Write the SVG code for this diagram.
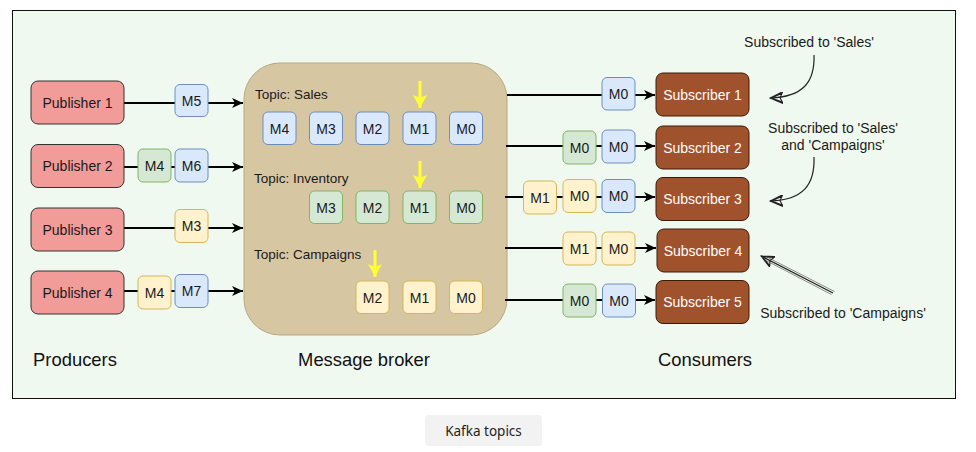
<svg xmlns="http://www.w3.org/2000/svg" width="976" height="452" viewBox="0 0 976 452">
<style>
.t{font-family:"Liberation Sans",Arial,sans-serif;font-size:14px;fill:#1a1a1a;text-anchor:middle}
.tl{font-family:"Liberation Sans",Arial,sans-serif;font-size:13.5px;fill:#1a1a1a}
.big{font-family:"Liberation Sans",Arial,sans-serif;font-size:18.4px;fill:#111;text-anchor:middle}
.pub{fill:#f19c99;stroke:#333;stroke-width:1}
.sub{fill:#a0522d;stroke:#3d1a08;stroke-width:1}
.st{font-family:"Liberation Sans",Arial,sans-serif;font-size:14px;fill:#fff;text-anchor:middle}
.b{fill:#dae8fc;stroke:#6c8ebf;stroke-width:1}
.g{fill:#d5e8d4;stroke:#82b366;stroke-width:1}
.y{fill:#fff2cc;stroke:#d6b656;stroke-width:1}
.ln{stroke:#000;stroke-width:2;fill:none}
.ya{stroke:#ffff33;stroke-width:3;fill:none}
.sk{stroke:#222;stroke-width:1.2;fill:none}
</style>
<defs>
<marker id="ah" markerUnits="userSpaceOnUse" markerWidth="12" markerHeight="10" refX="11" refY="5" orient="auto">
<path d="M0,0 L11,5 L0,10 L3,5 Z" fill="#000"/>
</marker>
<marker id="yah" markerUnits="userSpaceOnUse" markerWidth="14" markerHeight="14" refX="13" refY="7" orient="auto">
<path d="M0,0 L13,7 L0,14 L3,7 Z" fill="#ffff33"/>
</marker>
<marker id="oah" markerUnits="userSpaceOnUse" markerWidth="14" markerHeight="12" refX="13" refY="6" orient="auto">
<path d="M13,6 L0,0 L3,6 L0,12 Z M1,1.5 L12.5,6.5 M1,10.5 L12.5,5.5" fill="none" stroke="#222" stroke-width="1.1"/>
</marker>
</defs>
<rect x="12.5" y="10.5" width="943" height="388" fill="#f0f9ef" stroke="#111" stroke-width="1"/>

<g id="broker">
<rect x="244" y="63" width="263" height="272" rx="36" ry="36" fill="#d6c6a2" stroke="#b8a881" stroke-width="1"/>
<text class="tl" x="255" y="99">Topic: Sales</text>
<text class="tl" x="254" y="183">Topic: Inventory</text>
<text class="tl" x="254" y="259">Topic: Campaigns</text>
</g>

<g id="connectors">
<line class="ln" x1="124" y1="103" x2="243" y2="103" marker-end="url(#ah)"/>
<line class="ln" x1="124" y1="167" x2="243" y2="167" marker-end="url(#ah)"/>
<line class="ln" x1="124" y1="228" x2="243" y2="228" marker-end="url(#ah)"/>
<line class="ln" x1="124" y1="291" x2="243" y2="291" marker-end="url(#ah)"/>
<line class="ln" x1="507" y1="95" x2="655" y2="95" marker-end="url(#ah)"/>
<line class="ln" x1="506" y1="146" x2="655" y2="146" marker-end="url(#ah)"/>
<line class="ln" x1="505" y1="197" x2="655" y2="197" marker-end="url(#ah)"/>
<line class="ln" x1="505" y1="248" x2="656" y2="248" marker-end="url(#ah)"/>
<line class="ln" x1="505" y1="300" x2="655" y2="300" marker-end="url(#ah)"/>
<line class="ya" x1="420" y1="81" x2="420" y2="108" marker-end="url(#yah)"/>
<line class="ya" x1="420" y1="161" x2="420" y2="188" marker-end="url(#yah)"/>
<line class="ya" x1="375" y1="250" x2="375" y2="277" marker-end="url(#yah)"/>
<path class="sk" d="M814,55 C815,82 803,97 770,98" marker-end="url(#oah)"/>
<path class="sk" d="M814,157 C815,185 803,200 770,201" marker-end="url(#oah)"/>
<path class="sk" d="M833,293 L761,256" stroke-width="1" marker-end="url(#oah)"/>
<path d="M834.5,291.5 L766,256.5 M831.5,294.5 L764,259.5" fill="none" stroke="#444" stroke-width="0.6"/>
</g>

<g id="publisher1"><rect class="pub" x="31" y="81" width="93" height="43" rx="7"/><text class="t" x="77.5" y="107.5">Publisher 1</text></g>
<g id="publisher2"><rect class="pub" x="31" y="144.5" width="93" height="43" rx="7"/><text class="t" x="77.5" y="171">Publisher 2</text></g>
<g id="publisher3"><rect class="pub" x="31" y="208" width="93" height="43" rx="7"/><text class="t" x="77.5" y="234.5">Publisher 3</text></g>
<g id="publisher4"><rect class="pub" x="31" y="271" width="93" height="43" rx="7"/><text class="t" x="77.5" y="297.5">Publisher 4</text></g>

<g id="pmsg">
<rect class="b" x="175" y="84.5" width="33" height="32" rx="5"/><text class="t" x="191.5" y="105.5">M5</text>
<rect class="g" x="138" y="149" width="33" height="33" rx="5"/><text class="t" x="154.5" y="170.5">M4</text>
<rect class="b" x="175" y="149" width="33" height="33" rx="5"/><text class="t" x="191.5" y="170.5">M6</text>
<rect class="y" x="175" y="209.5" width="33" height="33" rx="5"/><text class="t" x="191.5" y="231">M3</text>
<rect class="y" x="138" y="276" width="33" height="33" rx="5"/><text class="t" x="154.5" y="297.5">M4</text>
<rect class="b" x="175" y="274.5" width="33" height="33" rx="5"/><text class="t" x="191.5" y="296">M7</text>
</g>

<g id="sales">
<rect class="b" x="263" y="112" width="33" height="32.5" rx="5"/><text class="t" x="279.5" y="133.5">M4</text>
<rect class="b" x="309.5" y="112" width="33" height="32.5" rx="5"/><text class="t" x="326" y="133.5">M3</text>
<rect class="b" x="356" y="112" width="33" height="32.5" rx="5"/><text class="t" x="372.5" y="133.5">M2</text>
<rect class="b" x="403" y="112" width="33" height="32.5" rx="5"/><text class="t" x="419.5" y="133.5">M1</text>
<rect class="b" x="449.5" y="112" width="33" height="32.5" rx="5"/><text class="t" x="466" y="133.5">M0</text>
</g>
<g id="inventory">
<rect class="g" x="309.5" y="191" width="33" height="32.5" rx="5"/><text class="t" x="326" y="212.5">M3</text>
<rect class="g" x="356" y="191" width="33" height="32.5" rx="5"/><text class="t" x="372.5" y="212.5">M2</text>
<rect class="g" x="403" y="191" width="33" height="32.5" rx="5"/><text class="t" x="419.5" y="212.5">M1</text>
<rect class="g" x="449.5" y="191" width="33" height="32.5" rx="5"/><text class="t" x="466" y="212.5">M0</text>
</g>
<g id="campaigns">
<rect class="y" x="356" y="281" width="33" height="32.5" rx="5"/><text class="t" x="372.5" y="302.5">M2</text>
<rect class="y" x="403" y="281" width="33" height="32.5" rx="5"/><text class="t" x="419.5" y="302.5">M1</text>
<rect class="y" x="449.5" y="281" width="33" height="32.5" rx="5"/><text class="t" x="466" y="302.5">M0</text>
</g>

<g id="smsg">
<rect class="b" x="602" y="77.5" width="33" height="32.5" rx="5"/><text class="t" x="618.5" y="99">M0</text>
<rect class="g" x="563" y="131" width="33" height="33" rx="5"/><text class="t" x="579.5" y="152.5">M0</text>
<rect class="b" x="602" y="130" width="33" height="33" rx="5"/><text class="t" x="618.5" y="151.5">M0</text>
<rect class="y" x="523.5" y="181" width="33" height="33" rx="5"/><text class="t" x="540" y="202.5">M1</text>
<rect class="y" x="563" y="179.5" width="33" height="33" rx="5"/><text class="t" x="579.5" y="201">M0</text>
<rect class="b" x="602" y="179.5" width="33" height="33" rx="5"/><text class="t" x="618.5" y="201">M0</text>
<rect class="y" x="563" y="232" width="33" height="33" rx="5"/><text class="t" x="579.5" y="253.5">M1</text>
<rect class="y" x="602" y="232" width="33" height="33" rx="5"/><text class="t" x="618.5" y="253.5">M0</text>
<rect class="g" x="563" y="284" width="33" height="33" rx="5"/><text class="t" x="579.5" y="305.5">M0</text>
<rect class="b" x="602.5" y="284" width="33" height="33" rx="5"/><text class="t" x="619" y="305.5">M0</text>
</g>

<g id="subscriber1"><rect class="sub" x="656" y="73" width="93" height="43" rx="7"/><text class="st" x="702.5" y="99.5">Subscriber 1</text></g>
<g id="subscriber2"><rect class="sub" x="656" y="126" width="93" height="43" rx="7"/><text class="st" x="702.5" y="152.5">Subscriber 2</text></g>
<g id="subscriber3"><rect class="sub" x="656" y="177.5" width="93" height="43" rx="7"/><text class="st" x="702.5" y="204">Subscriber 3</text></g>
<g id="subscriber4"><rect class="sub" x="657" y="229" width="92" height="43" rx="7"/><text class="st" x="703" y="255.5">Subscriber 4</text></g>
<g id="subscriber5"><rect class="sub" x="656" y="280.5" width="93" height="43" rx="7"/><text class="st" x="702.5" y="307">Subscriber 5</text></g>

<g id="annotations">
<text class="t" x="809" y="47">Subscribed to 'Sales'</text>
<text class="t" x="833" y="133">Subscribed to 'Sales'</text>
<text class="t" x="833" y="150">and 'Campaigns'</text>
<text class="t" x="843" y="318">Subscribed to 'Campaigns'</text>
</g>

<g id="labels">
<text class="big" x="75" y="366">Producers</text>
<text class="big" x="364" y="366">Message broker</text>
<text class="big" x="705" y="366">Consumers</text>
</g>

<g id="caption">
<rect x="425" y="415" width="117" height="31" rx="4" fill="#f2f2f2"/>
<text x="483.5" y="435.5" text-anchor="middle" font-family="'Noto Sans','Open Sans',sans-serif" font-size="13.5" fill="#1e1e1e">Kafka topics</text>
</g>
</svg>
